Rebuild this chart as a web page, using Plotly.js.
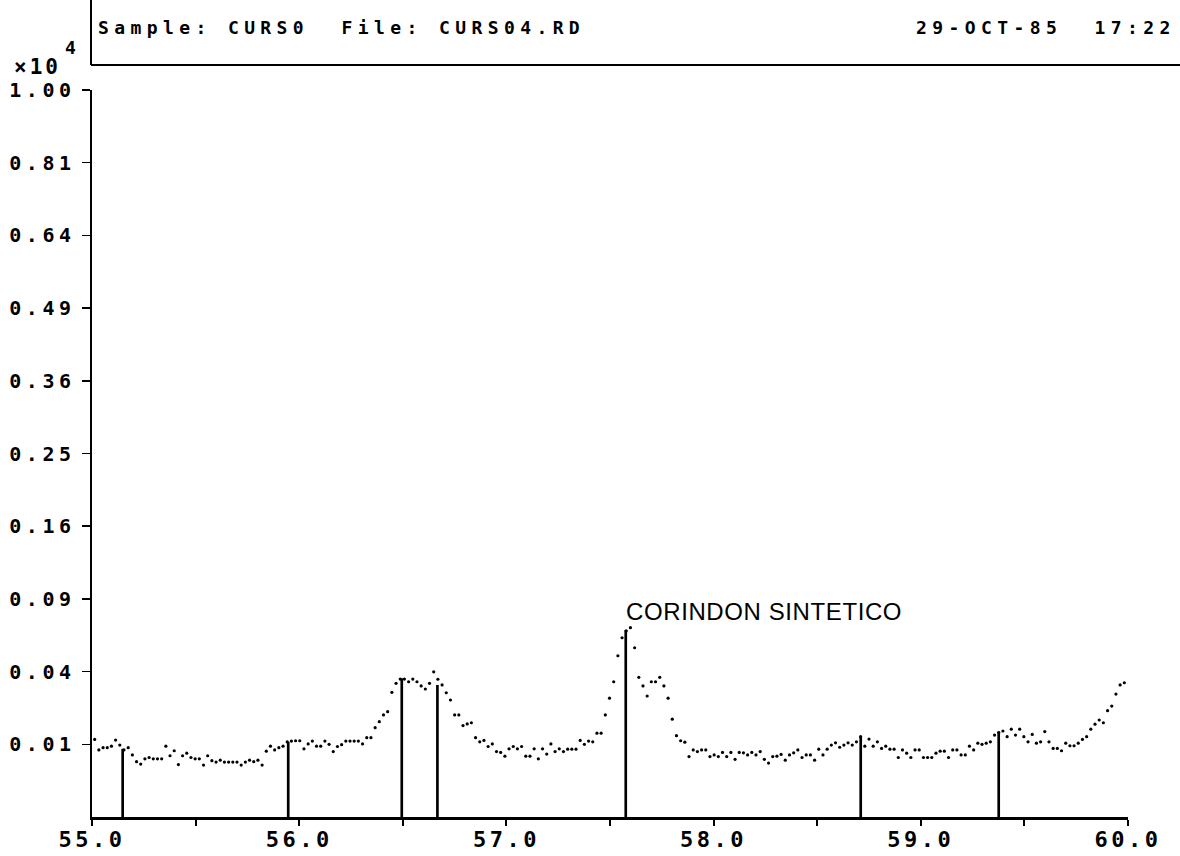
<!DOCTYPE html>
<html>
<head>
<meta charset="utf-8">
<script src="https://cdn.plot.ly/plotly-3.0.1.min.js"></script>
<style>html,body{margin:0;padding:0;background:#fff;}</style>
</head>
<body>
<div id="chart" style="width:1180px;height:856px;"></div>
<script>
// Scan: 2-theta start and step (degrees)
const scanStart = 55.013;
const scanStep = 0.0202;
const counts = [
114,85,91,91,95,112,98,85,91,73,
58,53,64,67,64,64,64,95,71,83,
52,71,77,67,64,64,51,71,60,57,
61,57,57,57,57,51,57,61,58,61,
51,82,95,85,91,95,107,109,110,110,
88,101,109,95,95,109,100,81,94,99,
109,109,109,109,101,119,119,151,172,197,
210,294,338,360,360,346,360,346,325,310,
338,399,359,330,292,259,197,197,158,164,
168,119,107,111,94,101,81,79,70,88,
94,88,94,70,70,88,64,88,75,101,
81,88,81,87,87,87,111,100,109,107,
133,133,197,267,346,492,608,655,678,542,
369,325,277,346,346,369,325,267,181,125,
110,106,69,85,81,85,85,69,73,69,
79,69,79,63,79,78,73,79,73,81,
63,55,69,70,74,61,73,78,85,67,
73,73,61,87,73,87,98,104,92,98,
104,98,107,122,95,115,95,107,89,95,
87,87,67,85,77,67,85,85,67,67,
67,77,82,82,67,85,85,73,73,95,
85,103,100,103,107,127,135,140,122,146,
127,146,122,107,129,103,107,138,107,89,
89,83,103,96,96,103,114,122,146,163,
178,168,214,233,286,330,341
];
// Reference pattern lines (CORINDON SINTETICO): position (deg) and height (counts)
const stickPos = [55.148, 55.947, 56.495, 56.667, 57.576, 58.710, 59.376];
const stickHeight = [88, 107, 364, 330, 662, 122, 138];

// Axis ticks
const xTickVals = [55.0,55.5,56.0,56.5,57.0,57.5,58.0,58.5,59.0,59.5,60.0];
const xTickText = ['55.0','','56.0','','57.0','','58.0','','59.0','','60.0'];
const yTickCounts = [100,400,900,1600,2500,3600,4900,6400,8100,10000];
const yTickText = ['0.01','0.04','0.09','0.16','0.25','0.36','0.49','0.64','0.81','1.00'];

const headerLeft = 'Sample: CURS0  File: CURS04.RD';
const headerRight = '29-OCT-85  17:22';
const peakLabel = 'CORINDON SINTETICO';
const scaleBase = '\u00d710';
const scaleExp = '4';

// square-root intensity scale, in units of 10^4 counts
const sq = c => Math.sqrt(c / 10000);
const sp = (t, ls) => t === '' ? '' : '<span style="letter-spacing:' + ls + 'px">' + t + '</span>';
const mono = 'DejaVu Sans Mono, Liberation Mono, monospace';

const traces = [
  {
    type: 'bar',
    x: stickPos,
    y: stickHeight.map(sq),
    width: 0.013,
    marker: {color: '#000', line: {width: 0}},
    hoverinfo: 'skip'
  },
  {
    type: 'scatter',
    mode: 'markers',
    x0: scanStart,
    dx: scanStep,
    y: counts.map(sq),
    marker: {color: '#000', size: 3.2},
    hoverinfo: 'skip'
  }
];

const px = v => (v - 92) / 1036;   // page x -> paper
const py = v => (817 - v) / 727;   // page y -> paper

const layout = {
  width: 1180,
  height: 856,
  margin: {l: 92, r: 52, t: 90, b: 39, pad: 0},
  paper_bgcolor: '#fff',
  plot_bgcolor: '#fff',
  showlegend: false,
  xaxis: {
    range: [55, 60],
    tickmode: 'array',
    tickvals: xTickVals,
    ticktext: xTickText.map(t => sp(t, 3.5)),
    ticks: 'outside', ticklen: 6, tickwidth: 2, tickcolor: '#000',
    showline: true, linewidth: 2.5, linecolor: '#000',
    showgrid: false, zeroline: false,
    ticklabelstandoff: -5,
    tickfont: {family: mono, size: 22, weight: 700, color: '#000'}
  },
  yaxis: {
    range: [0, 1],
    tickmode: 'array',
    tickvals: yTickCounts.map(sq),
    ticktext: yTickText.map(t => sp(t, 4.5)),
    ticks: 'outside', ticklen: 8, tickwidth: 1.5, tickcolor: '#000',
    showline: true, linewidth: 2.5, linecolor: '#000',
    showgrid: false, zeroline: false,
    ticklabelstandoff: 2,
    tickfont: {family: mono, size: 20, weight: 700, color: '#000'}
  },
  shapes: [
    {type: 'line', xref: 'paper', yref: 'paper', x0: px(91), x1: px(91), y0: py(65), y1: py(-5), line: {color: '#000', width: 2}},
    {type: 'line', xref: 'paper', yref: 'paper', x0: px(91), x1: px(1185), y0: py(65), y1: py(65), line: {color: '#000', width: 2}}
  ],
  annotations: [
    {xref: 'paper', yref: 'paper', x: px(96), y: py(27), xanchor: 'left', yanchor: 'middle', showarrow: false,
     text: sp(headerLeft, 5.4), font: {family: mono, size: 18, weight: 700, color: '#000'}},
    {xref: 'paper', yref: 'paper', x: px(1178), y: py(27), xanchor: 'right', yanchor: 'middle', showarrow: false,
     text: sp(headerRight, 5.4), font: {family: mono, size: 18, weight: 700, color: '#000'}},
    {xref: 'paper', yref: 'paper', x: px(12), y: py(67), xanchor: 'left', yanchor: 'middle', showarrow: false,
     text: sp(scaleBase, 3), font: {family: mono, size: 21, weight: 700, color: '#000'}},
    {xref: 'paper', yref: 'paper', x: px(63), y: py(48), xanchor: 'left', yanchor: 'middle', showarrow: false,
     text: scaleExp, font: {family: mono, size: 18, weight: 700, color: '#000'}},
    {xref: 'x', yref: 'paper', x: 57.566, y: py(611), xanchor: 'left', yanchor: 'middle', showarrow: false,
     text: sp(peakLabel, 0.6), font: {family: 'Liberation Sans, Arial, sans-serif', size: 24, color: '#000'}}
  ]
};

Plotly.newPlot('chart', traces, layout, {staticPlot: true, displayModeBar: false});
</script>
</body>
</html>
